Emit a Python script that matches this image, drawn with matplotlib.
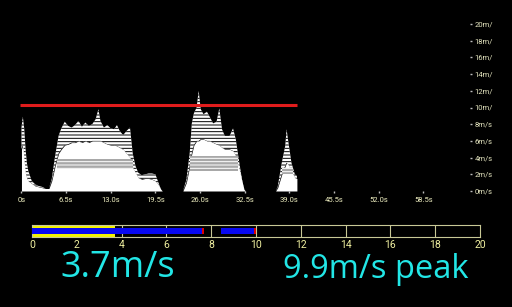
import numpy as np
import matplotlib
matplotlib.use("Agg")
import matplotlib.pyplot as plt

# wind trace: time (s), upper envelope and solid (dense) level in m/s
t = [0.0, 0.2, 0.4, 0.6, 0.8, 1.0, 1.5, 2.0, 2.5, 3.0, 3.5, 4.0, 4.4, 4.9, 5.4, 5.8,
     6.3, 6.8, 7.3, 7.8, 8.3, 8.8, 9.3, 9.8, 10.3, 10.8, 11.2, 11.5, 12.0, 12.5, 13.0,
     13.5, 13.9, 14.3, 14.8, 15.3, 15.8, 16.2, 16.6, 17.0, 17.5, 18.0, 18.5, 19.0, 19.5,
     19.9, 20.3, 20.5, 23.5, 24.0, 24.5, 24.8, 25.1, 25.5, 25.8, 26.1, 26.5, 27.0, 27.4,
     27.9, 28.4, 28.8, 29.2, 29.6, 30.3, 30.8, 31.2, 31.6, 32.1, 32.4, 32.6, 37.0, 37.3,
     37.9, 38.4, 38.6, 38.8, 39.3, 39.8, 40.1]
top = [7.6, 8.9, 7.5, 5.0, 3.3, 2.4, 1.2, 0.8, 0.6, 0.5, 0.3, 0.3, 1.4, 4.2, 6.6, 7.5,
       8.3, 7.8, 7.6, 7.9, 8.4, 7.7, 8.2, 7.8, 8.0, 8.6, 9.8, 8.4, 7.6, 7.9, 7.5,
       7.4, 7.9, 7.2, 6.7, 7.2, 7.6, 4.5, 3.0, 2.2, 1.9, 2.0, 2.1, 2.1, 2.0,
       1.1, 0.2, 0.0, 0.0, 1.3, 4.6, 8.1, 9.3, 10.0, 12.0, 9.8, 9.2, 9.5, 8.9,
       8.1, 8.3, 9.9, 7.4, 6.6, 6.6, 7.5, 6.2, 4.0, 1.4, 0.2, 0.0, 0.0, 0.5,
       3.4, 5.4, 7.4, 6.2, 3.4, 2.0, 1.8]
dense = [5.0, 5.5, 3.5, 2.0, 1.5, 1.2, 0.9, 0.6, 0.5, 0.4, 0.3, 0.3, 1.2, 3.0, 4.5, 5.0,
         5.5, 5.6, 5.8, 5.8, 6.0, 5.8, 6.0, 5.8, 6.0, 6.0, 6.0, 6.0, 5.8, 5.6, 5.5,
         5.5, 5.4, 5.2, 5.0, 4.5, 4.0, 2.8, 2.2, 1.6, 1.4, 1.5, 1.5, 1.4, 1.2,
         0.8, 0.2, 0.0, 0.0, 1.0, 3.0, 4.5, 5.5, 6.0, 6.0, 6.2, 6.2, 6.0, 6.0,
         5.8, 5.6, 5.5, 5.2, 5.0, 5.0, 4.8, 4.2, 3.0, 1.2, 0.2, 0.0, 0.0, 0.4,
         2.0, 3.0, 3.4, 3.2, 2.4, 1.6, 1.5]
# grey bands inside the bursts: start, end, low, high
band_start = [5.2, 24.6, 38.0]
band_end = [16.3, 31.5, 39.6]
band_lo = [2.6, 2.4, 2.0]
band_hi = [3.8, 4.2, 2.8]
peak_line = 10.35

x_ticks = [0, 6.5, 13.0, 19.5, 26.0, 32.5, 39.0, 45.5, 52.0, 58.5]
x_labels = ["0s", "6.5s", "13.0s", "19.5s", "26.0s", "32.5s", "39.0s", "45.5s", "52.0s", "58.5s"]
y_ticks = [0, 2, 4, 6, 8, 10, 12, 14, 16, 18, 20]
y_labels = ["0m/s", "2m/s", "4m/s", "6m/s", "8m/s", "10m/", "12m/", "14m/", "16m/", "18m/", "20m/"]

# gauge bar
current = 3.7
gust_start = [0.0, 8.45]
gust_end = [7.7, 10.0]
bar_ticks = [0, 2, 4, 6, 8, 10, 12, 14, 16, 18, 20]
speed_text = "3.7m/s"
peak_text = "9.9m/s peak"

W, H = 512, 307
fig = plt.figure(figsize=(W / 100, H / 100), dpi=100, facecolor="black")
plt.rcParams["hatch.linewidth"] = 0.7

# ---- top trace ----
x0, x1 = 19.4, 470
y0, y1 = 191, 24
ax = fig.add_axes([x0 / W, (H - y0) / H, (x1 - x0) / W, (y0 - y1) / H])
ax.set_facecolor("black")
ax.set_xlim(-0.3, 65.3)
ax.set_ylim(0, 20)
for s in ax.spines.values():
    s.set_visible(False)

# streaky upper part: white with thin black lines
ax.fill_between(t, dense, top, facecolor="white", edgecolor="black",
                hatch="-----", linewidth=0, zorder=1)
ax.fill_between(t, 0, dense, color="white", linewidth=0, zorder=2)
for s, e, lo, hi in zip(band_start, band_end, band_lo, band_hi):
    ax.fill_between([s, e], lo, hi, facecolor="#a8a8a8", edgecolor="white",
                    hatch="-----", linewidth=0, zorder=3)
ax.hlines(peak_line, t[0] - 0.2, t[-1], color="#e01c1c", linewidth=2.2, zorder=4)

ax.set_xticks(x_ticks)
ax.set_xticklabels(x_labels)
ax.yaxis.tick_right()
ax.set_yticks(y_ticks)
ax.set_yticklabels(y_labels)
ax.tick_params(axis="x", colors="#bdbdbd", length=1.5, width=1, pad=3,
               labelcolor="#eeeec0", labelsize=5.5)
ax.tick_params(axis="y", colors="#bdbdbd", length=1.5, width=1, pad=2,
               labelcolor="#e6e6c0", labelsize=5.5)
for lab in ax.get_xticklabels() + ax.get_yticklabels():
    lab.set_family("Roboto")

# ---- gauge ----
bx0, bx1 = 32, 480
by0, by1 = 237, 225
bx = fig.add_axes([bx0 / W, (H - by0) / H, (bx1 - bx0) / W, (by0 - by1) / H])
bx.set_facecolor("black")
bx.set_xlim(0, 20)
bx.set_ylim(0, 1)
frame = "#c8c896"
for s in bx.spines.values():
    s.set_color(frame)
    s.set_linewidth(0.8)
bx.vlines(bar_ticks[1:-1], 0, 1, color=frame, linewidth=0.8, zorder=1)
bx.barh(0.5, current, height=1.0, left=0, color="#f2f200", zorder=2)
for s, e in zip(gust_start, gust_end):
    bx.barh(0.5, e - s - 0.1, height=0.5, left=s, color="#0808f0", zorder=3)
    bx.barh(0.5, 0.1, height=0.5, left=e - 0.1, color="#e00000", zorder=3)
bx.set_yticks([])
bx.set_xticks(bar_ticks)
bx.set_xticklabels([str(v) for v in bar_ticks])
bx.tick_params(axis="x", length=0, pad=2, labelcolor="#f0f0a0", labelsize=7.5)
for lab in bx.get_xticklabels():
    lab.set_family("Roboto")

# ---- readouts ----
fig.text(117.6 / W, (H - 277.3) / H, speed_text, color="#22e6e6", fontsize=26,
         family="Open Sans", ha="center", va="baseline")
fig.text(375.8 / W, (H - 278.3) / H, peak_text, color="#22e6e6", fontsize=23.5,
         family="Open Sans", ha="center", va="baseline")

fig.savefig("out.png", dpi=100, facecolor="black")
